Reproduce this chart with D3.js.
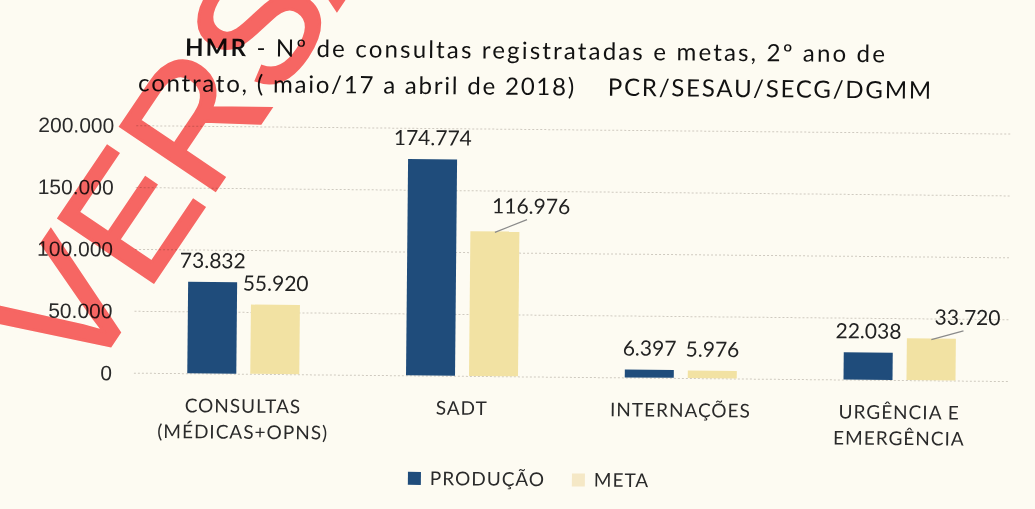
<!DOCTYPE html>
<html>
<head>
<meta charset="utf-8">
<script src="https://cdn.jsdelivr.net/npm/d3@7/dist/d3.min.js"></script>
<style>
  html, body { margin: 0; padding: 0; background: #fdfbf2; }
  svg { display: block; font-family: Lato, "Open Sans", sans-serif; }
  .grid line { stroke: #cfcac0; stroke-dasharray: 2,2; }
  .grid text { fill: #2a2a2a; font-size: 21px; }
  .valor { fill: #222; font-size: 21px; text-anchor: middle; }
  .cat { fill: #2a2a2a; font-size: 19px; letter-spacing: 1px; text-anchor: middle; }
</style>
</head>
<body>
<div></div>
<script>
// dados
var categorias = ["CONSULTAS\n(MÉDICAS+OPNS)", "SADT", "INTERNAÇÕES", "URGÊNCIA E\nEMERGÊNCIA"],
    series = ["PRODUÇÃO", "META"],
    producao = [73832, 174774, 6397, 22038],
    meta = [55920, 116976, 5976, 33720],
    yTicks = [0, 50000, 100000, 150000, 200000];

var W = 1035, H = 509;
var margin = { top: 129, right: 25, bottom: 132.5, left: 135 },
    width = W - margin.left - margin.right,
    height = H - margin.top - margin.bottom;

var cores = { "PRODUÇÃO": "#1f4c7b", "META": "#f2e2a3" };

var locale = d3.formatLocale({ decimal: ",", thousands: ".", grouping: [3], currency: ["R$", ""] });
var fmt = locale.format(",d");

var dados = categorias.map(function (c, i) {
    return { cat: c, valores: [{ s: "PRODUÇÃO", v: producao[i] }, { s: "META", v: meta[i] }] };
});

var x0 = d3.scaleBand().domain(categorias).range([0, width]).paddingInner(0.488).paddingOuter(0.244),
    x1 = d3.scaleBand().domain(series).range([0, x0.bandwidth()]).paddingInner(0.222),
    y = d3.scaleLinear().domain([0, 200000]).range([height, 0]);

var svg = d3.select("div")
    .append("svg")
    .attr("width", W)
    .attr("height", H);

svg.append("rect").attr("width", W).attr("height", H).attr("fill", "#fdfbf2");

// a folha escaneada esta levemente girada
var folha = svg.append("g")
    .attr("transform", "rotate(0.55,533,260)");

// titulo
var titulo = folha.append("text")
    .attr("x", 533)
    .attr("y", 59)
    .attr("text-anchor", "middle")
    .attr("textLength", 700)
    .attr("lengthAdjust", "spacing")
    .style("font-size", "24px")
    .style("fill", "#111");
titulo.append("tspan").style("font-weight", "bold").text("HMR");
titulo.append("tspan").text(" - Nº de consultas registratadas e metas, 2º ano de");
folha.append("text")
    .attr("x", 533)
    .attr("y", 95)
    .attr("text-anchor", "middle")
    .attr("textLength", 793)
    .attr("lengthAdjust", "spacing")
    .attr("xml:space", "preserve")
    .style("font-size", "24px")
    .style("fill", "#111")
    .text("contrato, ( maio/17 a abril de 2018)    PCR/SESAU/SECG/DGMM");

var g = folha.append("g")
    .attr("transform", "translate(" + margin.left + "," + margin.top + ")");

g.append("g")
    .attr("class", "grid")
    .call(d3.axisLeft(y).tickValues(yTicks).tickFormat(fmt).tickSize(-width).tickPadding(22))
    .call(function (s) { s.select(".domain").remove(); })
    .selectAll("text").attr("dy", "0.35em");

var grupo = g.selectAll(".grupo")
    .data(dados)
    .enter()
    .append("g")
    .attr("class", "grupo")
    .attr("transform", function (d) { return "translate(" + x0(d.cat) + ",0)"; });

grupo.selectAll("rect")
    .data(function (d) { return d.valores; })
    .enter()
    .append("rect")
    .attr("x", function (d) { return x1(d.s); })
    .attr("y", function (d) { return y(d.v); })
    .attr("width", x1.bandwidth())
    .attr("height", function (d) { return height - y(d.v); })
    .style("fill", function (d) { return cores[d.s]; });

// rotulos deslocados com linha de chamada
var desloc = { "SADT|META": [36, -4], "URGÊNCIA E\nEMERGÊNCIA|META": [36, 0] };

grupo.each(function (gd) {
    var sel = d3.select(this);
    gd.valores.forEach(function (d) {
        var cx = x1(d.s) + x1.bandwidth() / 2,
            top = y(d.v),
            off = desloc[gd.cat + "|" + d.s] || [0, 0],
            lx = cx + off[0],
            ly = top - 14 + off[1];
        if (off[0] !== 0) {
            sel.append("line")
                .attr("x1", lx - 4).attr("y1", ly + 6)
                .attr("x2", cx).attr("y2", top + 1)
                .style("stroke", "#8a8a8a").style("stroke-width", 1.2);
        }
        sel.append("text")
            .attr("class", "valor")
            .attr("x", lx)
            .attr("y", ly)
            .text(fmt(d.v));
    });
});

// categorias
g.selectAll(".cat")
    .data(categorias)
    .enter()
    .append("text")
    .attr("class", "cat")
    .attr("transform", function (d) { return "translate(" + (x0(d) + x0.bandwidth() / 2) + "," + (height + 39) + ")"; })
    .selectAll("tspan")
    .data(function (d) { return d.split("\n"); })
    .enter()
    .append("tspan")
    .attr("x", 0)
    .attr("dy", function (d, i) { return i ? 26 : 0; })
    .text(String);

// legenda
var legenda = folha.selectAll(".legenda")
    .data(series)
    .enter()
    .append("g")
    .attr("class", "legenda")
    .attr("transform", function (d, i) { return "translate(" + (410 + i * 164) + ",473)"; });

legenda.append("rect")
    .attr("width", 13)
    .attr("height", 13)
    .style("fill", function (d, i) { return i ? "#f5e8c6" : cores[d]; });

legenda.append("text")
    .attr("x", 22)
    .attr("y", 13)
    .style("font-size", "19px")
    .style("letter-spacing", "1px")
    .style("fill", "#2a2a2a")
    .text(String);

// marca d'agua
svg.append("text")
    .attr("transform", "translate(84,385) rotate(-56)")
    .style("font-family", "'Liberation Sans', Arial, sans-serif")
    .style("font-size", "166px")
    .style("fill", "#f86868")
    .style("stroke", "#f86868")
    .style("stroke-width", 3)
    .style("mix-blend-mode", "multiply")
    .text("VERSÃO");
</script>
</body>
</html>
